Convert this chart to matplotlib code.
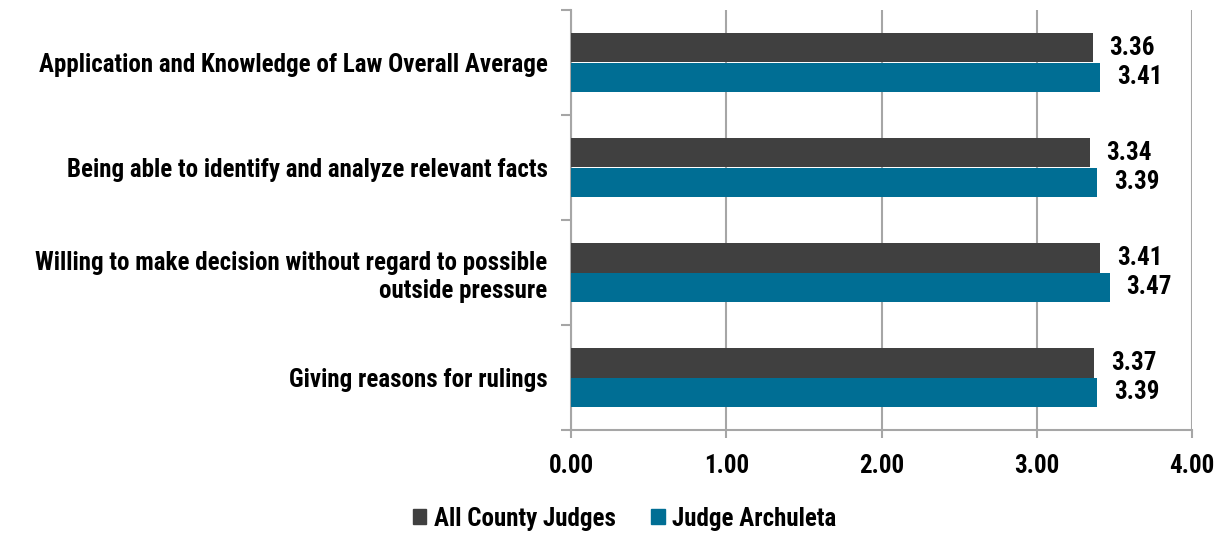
import matplotlib
matplotlib.use("Agg")
import matplotlib.pyplot as plt
from matplotlib.patches import Patch

categories = [
    "Application and Knowledge of Law Overall Average",
    "Being able to identify and analyze relevant facts",
    "Willing to make decision without regard to possible\noutside pressure",
    "Giving reasons for rulings",
]
all_county = [3.36, 3.34, 3.41, 3.37]
archuleta = [3.41, 3.39, 3.47, 3.39]
series_names = ["All County Judges", "Judge Archuleta"]
xticks = [0, 1, 2, 3, 4]

plt.rcParams['font.family'] = ['Liberation Sans Narrow', 'Roboto Condensed', 'Archivo Narrow',
                               'Barlow Semi Condensed', 'Liberation Sans', 'DejaVu Sans']
plt.rcParams['font.weight'] = 'bold'

FS = 18
c_dark = "#404040"
c_blue = "#006E94"
c_grid = "#A6A6A6"

fig = plt.figure(figsize=(12.22, 5.33), dpi=100)
ax = fig.add_axes([571/1222, 1-430/533, (1192-571)/1222, 420/533])

bh = 0.285
ys = list(range(len(categories)))
ax.barh([y - bh/2 for y in ys], all_county, height=bh, color=c_dark, zorder=3)
ax.barh([y + bh/2 for y in ys], archuleta, height=bh, color=c_blue, zorder=3)

for y, v in zip(ys, all_county):
    ax.annotate(f"{v:.2f}", (v, y - bh/2), xytext=(12, 0), textcoords='offset points',
                ha='left', va='center', fontsize=FS, fontweight='bold', color='black')
for y, v in zip(ys, archuleta):
    ax.annotate(f"{v:.2f}", (v, y + bh/2), xytext=(12, 0), textcoords='offset points',
                ha='left', va='center', fontsize=FS, fontweight='bold', color='black')

ax.set_xlim(0, 4)
ax.set_ylim(len(categories) - 0.5, -0.5)

ax.set_xticks(xticks)
ax.set_xticklabels([f"{t:.2f}" for t in xticks], fontsize=FS, fontweight='bold')
ax.xaxis.grid(True, color=c_grid, linewidth=1.5, zorder=0)
ax.tick_params(axis='x', length=6, width=1.5, color=c_grid, pad=11)

ax.set_yticks([y - 0.5 for y in range(len(categories) + 1)])
ax.set_yticklabels([])
ax.set_yticks(ys, minor=True)
ax.set_yticklabels(categories, minor=True, fontsize=FS, fontweight='bold', ha='right')
ax.tick_params(axis='y', which='major', length=7, width=1.5, color=c_grid)
ax.tick_params(axis='y', which='minor', length=0, pad=17)

for s in ['top', 'right']:
    ax.spines[s].set_visible(False)
for s in ['left', 'bottom']:
    ax.spines[s].set_color(c_grid)
    ax.spines[s].set_linewidth(1.5)

handles = [Patch(color=c_dark), Patch(color=c_blue)]
fig.legend(handles, series_names, loc='center', bbox_to_anchor=(0.511, 0.027), ncol=2,
           frameon=False, prop={'size': FS, 'weight': 'bold'}, handlelength=0.55,
           handleheight=0.55, handletextpad=0.3, columnspacing=1.4)

fig.savefig("out.png", dpi=100)
